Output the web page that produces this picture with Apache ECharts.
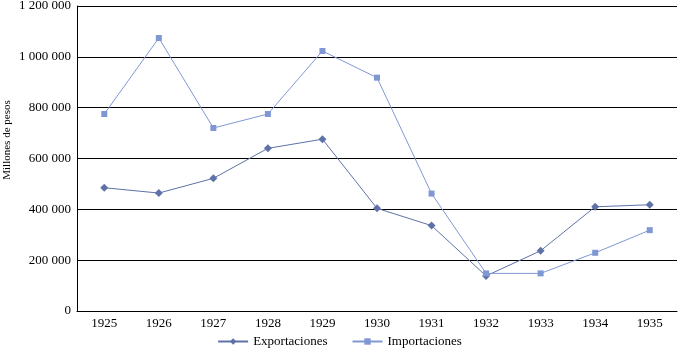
<!DOCTYPE html>
<html>
<head>
<meta charset="utf-8">
<script src="https://cdn.jsdelivr.net/npm/echarts@6/dist/echarts.min.js"></script>
<style>
  html, body { margin: 0; padding: 0; background: #fff; }
  #main { width: 679px; height: 353px; }
</style>
</head>
<body>
<div id="main"></div>
<script>
var years = ['1925', '1926', '1927', '1928', '1929', '1930', '1931', '1932', '1933', '1934', '1935'];
var exportaciones = [485000, 464000, 522000, 640000, 676000, 404000, 336000, 138000, 237000, 410000, 418000];
var importaciones = [775000, 1074000, 720000, 775000, 1023000, 918000, 462000, 148000, 148000, 229000, 318000];
var yTitle = 'Millones de pesos';

var fontFam = '"Liberation Serif", "DejaVu Serif", serif';

function fmt(v) { // separador de miles con espacio
    return String(v).replace(/\B(?=(\d{3})+(?!\d))/g, ' ');
}

var myChart = echarts.init(document.getElementById('main'));
var options = {
    animation: false,
    textStyle: { fontFamily: fontFam },
    grid: { left: 77, right: 2, top: 6, bottom: 42, containLabel: false, outerBoundsMode: 'none' },
    graphic: [{
        type: 'text',
        x: 7,
        y: 140,
        rotation: Math.PI / 2,
        style: {
            text: yTitle,
            fontFamily: fontFam,
            fontSize: 11,
            fill: '#000',
            align: 'center',
            verticalAlign: 'middle'
        }
    }],
    legend: {
        bottom: 0,
        left: 'center',
        itemGap: 24,
        itemWidth: 30,
        itemHeight: 8,
        textStyle: { fontFamily: fontFam, fontSize: 13, color: '#000' },
        data: ['Exportaciones', 'Importaciones']
    },
    xAxis: {
        type: 'category',
        data: years,
        boundaryGap: true,
        axisTick: { show: false },
        axisLine: { lineStyle: { color: '#000', width: 1 } },
        axisLabel: { color: '#000', fontSize: 13, fontFamily: fontFam, margin: 6 }
    },
    yAxis: {
        type: 'value',
        min: 0,
        max: 1200000,
        interval: 200000,
        axisLine: { show: true, lineStyle: { color: '#000', width: 1 } },
        axisTick: { show: false },
        splitLine: { lineStyle: { color: '#000', width: 1 } },
        axisLabel: { color: '#000', fontSize: 13, fontFamily: fontFam, margin: 6, formatter: fmt }
    },
    series: [
        {
            name: 'Exportaciones',
            type: 'line',
            data: exportaciones,
            symbol: 'diamond',
            symbolSize: 8,
            color: '#5f72a8',
            lineStyle: { width: 1, color: '#5f72a8' },
            itemStyle: { color: '#5f72a8' }
        },
        {
            name: 'Importaciones',
            type: 'line',
            data: importaciones,
            symbol: 'rect',
            symbolSize: 6,
            color: '#7f98d4',
            lineStyle: { width: 1, color: '#7f98d4' },
            itemStyle: { color: '#7f98d4' }
        }
    ]
};
myChart.setOption(options);
</script>
</body>
</html>
